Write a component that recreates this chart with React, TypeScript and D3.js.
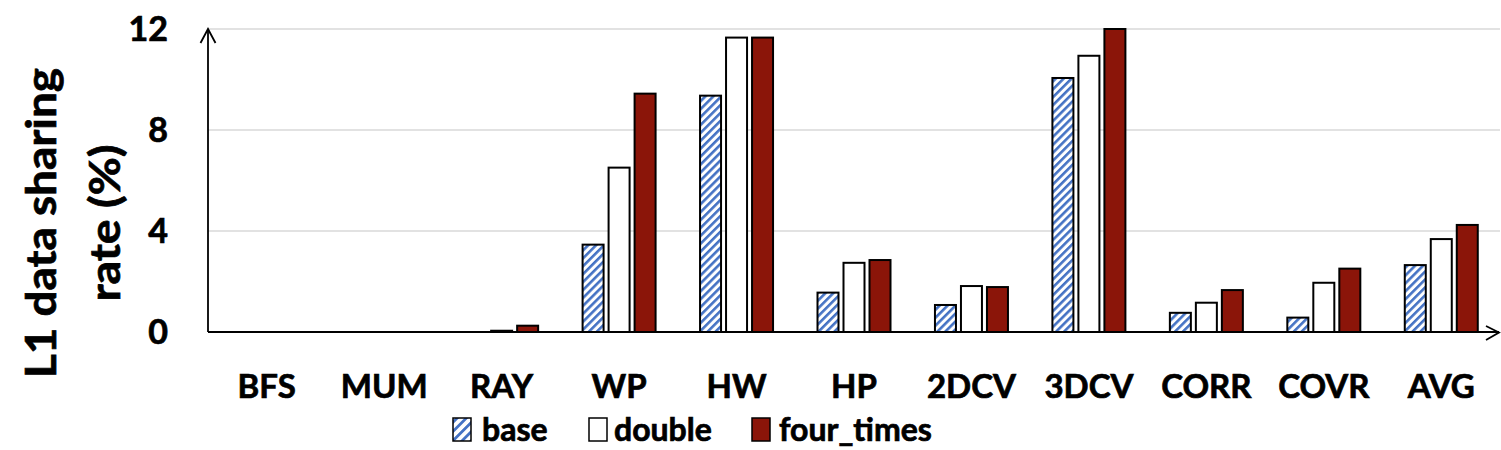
import React from "react";
import * as d3 from "d3";

const categories = ["BFS", "MUM", "RAY", "WP", "HW", "HP", "2DCV", "3DCV", "CORR", "COVR", "AVG"];
const baseValues = [0, 0, 0, 3.46, 9.36, 1.56, 1.07, 10.06, 0.76, 0.57, 2.65];
const doubleValues = [0, 0, 0.05, 6.51, 11.66, 2.74, 1.82, 10.94, 1.16, 1.95, 3.68];
const fourTimesValues = [0, 0, 0.25, 9.44, 11.66, 2.85, 1.78, 12.0, 1.66, 2.51, 4.24];
const seriesNames = ["base", "double", "four_times"];
const yTicks = [0, 4, 8, 12];

const W = 1501;
const H = 450;
const FONT = "Lato, 'Open Sans', sans-serif";
const TS = { stroke: "#000", strokeWidth: 0.7 };

export default function App() {
  const x = d3.scaleBand<string>().domain(categories).range([208, 1500]).padding(0);
  const y = d3.scaleLinear().domain([0, 12]).range([332, 29]);
  const barW = 21;
  const step = 26;
  const series = [
    { name: seriesNames[0], values: baseValues, fill: "url(#stripes)" },
    { name: seriesNames[1], values: doubleValues, fill: "#ffffff" },
    { name: seriesNames[2], values: fourTimesValues, fill: "#8B1509" },
  ];

  const legendItems = [
    { name: seriesNames[0], fill: "url(#stripesL)", sx: 453, tx: 482 },
    { name: seriesNames[1], fill: "#ffffff", sx: 589, tx: 614 },
    { name: seriesNames[2], fill: "#8B1509", sx: 752, tx: 779 },
  ];

  return (
    <svg width={W} height={H} style={{ display: "block", position: "absolute", left: 0, top: 0 }}>
      <defs>
        <pattern id="stripes" patternUnits="userSpaceOnUse" width={5.6} height={10} patternTransform="rotate(45)">
          <rect x={0} y={0} width={5.6} height={10} fill="#ffffff" />
          <rect x={0} y={0} width={2.6} height={10} fill="#4472C4" />
        </pattern>
        <pattern id="stripesL" patternUnits="userSpaceOnUse" width={6.5} height={10} patternTransform="rotate(45)">
          <rect x={0} y={0} width={6.5} height={10} fill="#ffffff" />
          <rect x={0} y={0} width={2.8} height={10} fill="#4472C4" />
        </pattern>
      </defs>
      <rect x={0} y={0} width={W} height={H} fill="#ffffff" />

      {/* gridlines */}
      {yTicks.filter((t) => t > 0).map((t) => (
        <line key={t} x1={208} x2={1500} y1={y(t)} y2={y(t)} stroke="#d9d9d9" strokeWidth={1.5} />
      ))}

      {/* bars */}
      {categories.map((c, i) => {
        const cx = (x(c) as number) + x.bandwidth() / 2;
        return series.map((s, j) => {
          const v = s.values[i];
          if (v <= 0) return null;
          const bx = cx + (j - 1) * step - barW / 2;
          return (
            <rect
              key={c + s.name}
              x={bx}
              y={y(v)}
              width={barW}
              height={y(0) - y(v)}
              fill={s.fill}
              stroke="#000"
              strokeWidth={2}
            />
          );
        });
      })}

      {/* axes */}
      <line x1={208} x2={208} y1={29} y2={332} stroke="#000" strokeWidth={1.8} />
      <polyline points="200.5,43 208,29 215.5,43" fill="none" stroke="#000" strokeWidth={1.8} />
      <line x1={208} x2={1499} y1={332} y2={332} stroke="#000" strokeWidth={1.8} />
      <polyline points="1486,326 1499,332.5 1486,340" fill="none" stroke="#000" strokeWidth={1.8} />

      {/* y tick labels */}
      {yTicks.map((t) => (
        <text key={t} x={168} y={y(t) + 12} textAnchor="end" fontFamily={FONT} fontWeight="bold" fontSize={34} fill="#000" {...TS}>
          {t}
        </text>
      ))}

      {/* y title */}
      <text transform="translate(56,223) rotate(-90)" textAnchor="middle" fontFamily={FONT} fontWeight="bold" fontSize={42} fill="#000" textLength={310} lengthAdjust="spacingAndGlyphs" {...TS}>
        L1 data sharing
      </text>
      <text transform="translate(120,223) rotate(-90)" textAnchor="middle" fontFamily={FONT} fontWeight="bold" fontSize={42} fill="#000" textLength={157} lengthAdjust="spacingAndGlyphs" {...TS}>
        rate (%)
      </text>

      {/* x labels */}
      {categories.map((c) => (
        <text key={c} x={(x(c) as number) + x.bandwidth() / 2} y={398} textAnchor="middle" fontFamily={FONT} fontWeight="bold" fontSize={33} fill="#000" {...TS}>
          {c}
        </text>
      ))}

      {/* legend */}
      {legendItems.map((l) => (
        <g key={l.name}>
          <rect x={l.sx} y={418} width={18} height={23} fill={l.fill} stroke="#000" strokeWidth={1.5} />
          <text x={l.tx} y={441} fontFamily={FONT} fontWeight="bold" fontSize={32} fill="#000" {...TS}>
            {l.name}
          </text>
        </g>
      ))}
    </svg>
  );
}
